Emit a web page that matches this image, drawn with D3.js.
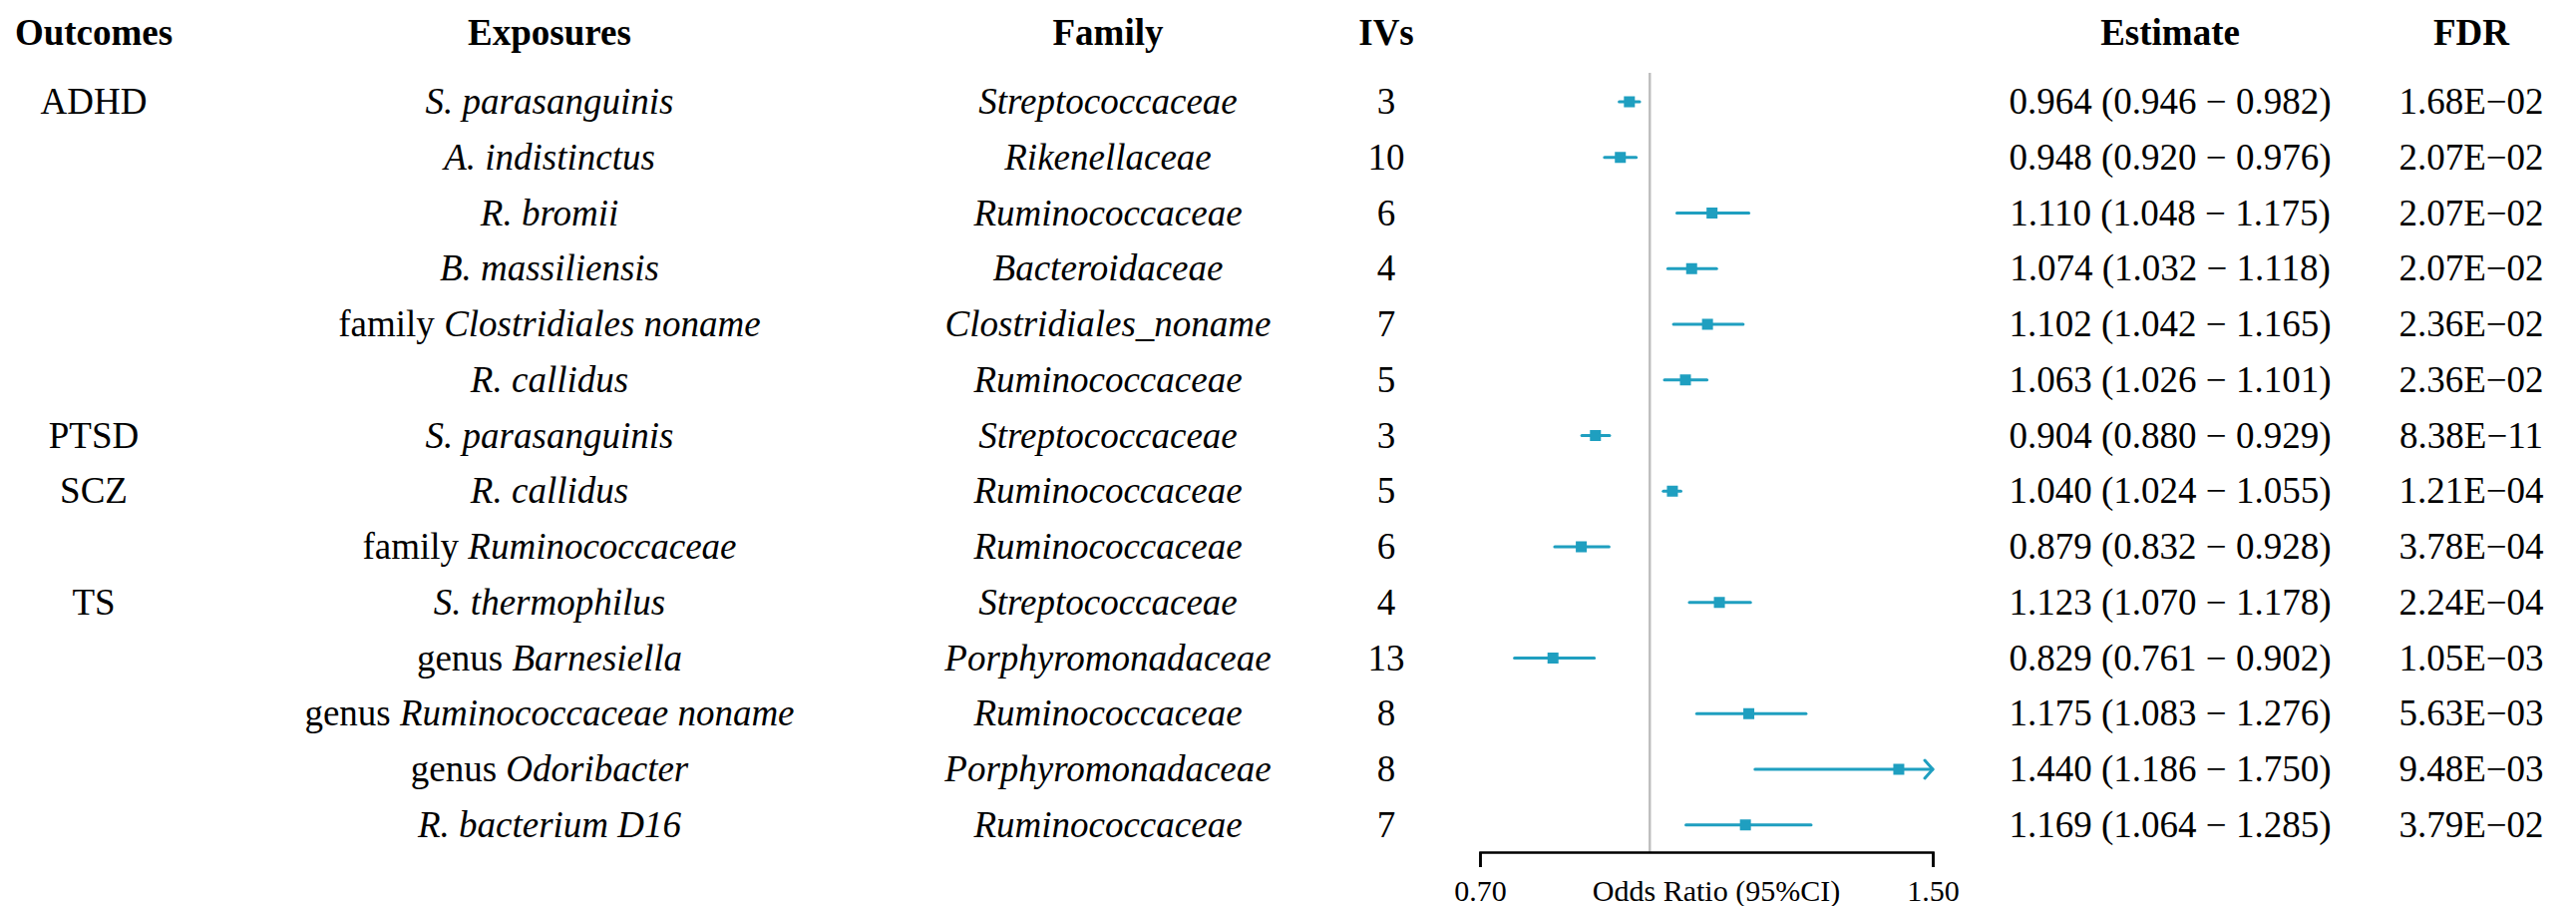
<!DOCTYPE html>
<html>
<head>
<meta charset="utf-8">
<script src="https://cdn.jsdelivr.net/npm/d3@7"></script>
<style>
  html, body { margin: 0; padding: 0; background: #ffffff; }
  svg { display: block; }
  text { font-family: "Liberation Serif", "Times New Roman", serif; fill: #000; }
</style>
</head>
<body>
<div id="chart"></div>
<script>
// ---- data ----
const headers = ["Outcomes", "Exposures", "Family", "IVs", "Estimate", "FDR"];
const outcomes = ["ADHD", "", "", "", "", "", "PTSD", "SCZ", "", "TS", "", "", "", ""];
const exposurePrefix = ["", "", "", "", "family ", "", "", "", "family ", "", "genus ", "genus ", "genus ", ""];
const exposureName = ["S. parasanguinis", "A. indistinctus", "R. bromii", "B. massiliensis", "Clostridiales noname", "R. callidus", "S. parasanguinis", "R. callidus", "Ruminococcaceae", "S. thermophilus", "Barnesiella", "Ruminococcaceae noname", "Odoribacter", "R. bacterium D16"];
const families = ["Streptococcaceae", "Rikenellaceae", "Ruminococcaceae", "Bacteroidaceae", "Clostridiales_noname", "Ruminococcaceae", "Streptococcaceae", "Ruminococcaceae", "Ruminococcaceae", "Streptococcaceae", "Porphyromonadaceae", "Ruminococcaceae", "Porphyromonadaceae", "Ruminococcaceae"];
const ivs = [3, 10, 6, 4, 7, 5, 3, 5, 6, 4, 13, 8, 8, 7];
const oddsRatio = [0.964, 0.948, 1.110, 1.074, 1.102, 1.063, 0.904, 1.040, 0.879, 1.123, 0.829, 1.175, 1.440, 1.169];
const lowerCI = [0.946, 0.920, 1.048, 1.032, 1.042, 1.026, 0.880, 1.024, 0.832, 1.070, 0.761, 1.083, 1.186, 1.064];
const upperCI = [0.982, 0.976, 1.175, 1.118, 1.165, 1.101, 0.929, 1.055, 0.928, 1.178, 0.902, 1.276, 1.750, 1.285];
const fdr = ["1.68E\u221202", "2.07E\u221202", "2.07E\u221202", "2.07E\u221202", "2.36E\u221202", "2.36E\u221202", "8.38E\u221211", "1.21E\u221204", "3.78E\u221204", "2.24E\u221204", "1.05E\u221203", "5.63E\u221203", "9.48E\u221203", "3.79E\u221202"];
const axisTicks = [0.70, 1.50];
const axisTitle = "Odds Ratio (95%CI)";
const refValue = 1;

// ---- layout ----
const W = 2583, H = 908;
const colX = { out: 94, exp: 551, fam: 1111, ivs: 1390, est: 2176, fdr: 2478 };
const fontSize = 37, axisFont = 30;
const ciColor = "#1f9fc0";

const svg = d3.select("#chart").append("svg").attr("width", W).attr("height", H);
svg.append("rect").attr("width", W).attr("height", H).attr("fill", "#fff");

const n = oddsRatio.length;
const y = d3.scalePoint().domain(d3.range(n)).range([102, 102 + 55.75 * (n - 1)]);
const x = d3.scaleLinear().domain([0.70, 1.50]).range([1484, 1938]);
const f3 = d3.format(".3f");

// headers
const hx = [colX.out, colX.exp, colX.fam, colX.ivs, colX.est, colX.fdr];
svg.selectAll("text.hdr").data(headers).join("text")
  .attr("class", "hdr")
  .attr("x", (d, i) => hx[i]).attr("y", 45)
  .attr("text-anchor", "middle")
  .attr("font-size", fontSize).attr("font-weight", "bold")
  .text(d => d);

const rows = d3.range(n);
const base = i => y(i) + 12;

// outcomes
svg.selectAll("text.out").data(rows).join("text")
  .attr("x", colX.out).attr("y", base)
  .attr("text-anchor", "middle").attr("font-size", fontSize)
  .text(i => outcomes[i]);

// exposures (prefix regular, name italic)
const expT = svg.selectAll("text.exp").data(rows).join("text")
  .attr("x", colX.exp).attr("y", base)
  .attr("text-anchor", "middle").attr("font-size", fontSize);
expT.append("tspan").text(i => exposurePrefix[i]);
expT.append("tspan").attr("font-style", "italic").text(i => exposureName[i]);

// family
svg.selectAll("text.fam").data(rows).join("text")
  .attr("x", colX.fam).attr("y", base)
  .attr("text-anchor", "middle").attr("font-size", fontSize).attr("font-style", "italic")
  .text(i => families[i]);

// IVs
svg.selectAll("text.ivs").data(rows).join("text")
  .attr("x", colX.ivs).attr("y", base)
  .attr("text-anchor", "middle").attr("font-size", fontSize)
  .text(i => ivs[i]);

// estimate
svg.selectAll("text.est").data(rows).join("text")
  .attr("x", colX.est).attr("y", base)
  .attr("text-anchor", "middle").attr("font-size", fontSize)
  .text(i => `${f3(oddsRatio[i])} (${f3(lowerCI[i])} \u2212 ${f3(upperCI[i])})`);

// FDR
svg.selectAll("text.fdr").data(rows).join("text")
  .attr("x", colX.fdr).attr("y", base)
  .attr("text-anchor", "middle").attr("font-size", fontSize)
  .text(i => fdr[i]);

// reference line
const axisY = 854;
svg.append("line")
  .attr("x1", x(refValue)).attr("x2", x(refValue))
  .attr("y1", 73).attr("y2", axisY)
  .attr("stroke", "#bfbfbf").attr("stroke-width", 2.5);

// CI lines
const [xmin, xmax] = x.domain();
svg.selectAll("line.ci").data(rows).join("line")
  .attr("x1", i => x(Math.max(lowerCI[i], xmin)))
  .attr("x2", i => x(Math.min(upperCI[i], xmax)))
  .attr("y1", i => y(i)).attr("y2", i => y(i))
  .attr("stroke", ciColor).attr("stroke-width", 3).attr("stroke-linecap", "round");

// arrows where CI exceeds axis
const arrowRows = rows.filter(i => upperCI[i] > xmax);
svg.selectAll("path.arrow").data(arrowRows).join("path")
  .attr("d", i => {
    const ax = x(xmax), ay = y(i);
    return `M${ax - 8},${ay - 9} L${ax},${ay} L${ax - 8},${ay + 9}`;
  })
  .attr("fill", "none").attr("stroke", ciColor).attr("stroke-width", 3)
  .attr("stroke-linecap", "round").attr("stroke-linejoin", "round");

// point estimates
const sq = 11;
svg.selectAll("rect.pt").data(rows).join("rect")
  .attr("x", i => x(oddsRatio[i]) - sq / 2)
  .attr("y", i => y(i) - sq / 2)
  .attr("width", sq).attr("height", sq)
  .attr("fill", ciColor);

// x axis
const axis = d3.axisBottom(x).tickValues(axisTicks).tickFormat(d3.format(".2f")).tickSize(15).tickPadding(8);
const gAxis = svg.append("g").attr("transform", `translate(0,${axisY})`).call(axis);
gAxis.select(".domain").attr("stroke", "#000").attr("stroke-width", 2.5);
gAxis.selectAll(".tick line").attr("stroke", "#000").attr("stroke-width", 2.5);
gAxis.selectAll(".tick text")
  .attr("font-family", "Liberation Serif, Times New Roman, serif")
  .attr("font-size", axisFont).attr("fill", "#000").attr("dy", null).attr("y", 49);

svg.append("text")
  .attr("x", 1721).attr("y", axisY + 49)
  .attr("text-anchor", "middle").attr("font-size", axisFont)
  .text(axisTitle);
</script>
</body>
</html>
